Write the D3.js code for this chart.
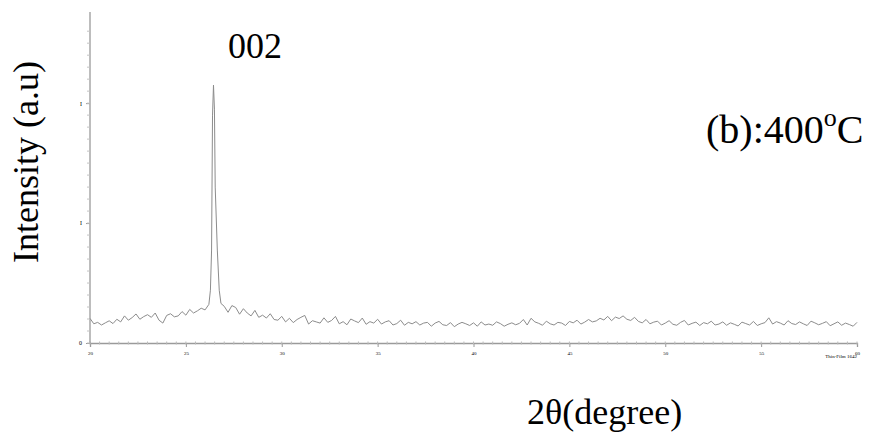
<!DOCTYPE html>
<html>
<head>
<meta charset="utf-8">
<script src="https://cdn.jsdelivr.net/npm/d3@7"></script>
<style>
  body { margin: 0; background: #fff; }
  svg { display: block; }
  text { font-family: "Liberation Serif", "Times New Roman", serif; fill: #000; }
</style>
</head>
<body>
<svg id="chart" width="874" height="441"></svg>
<script>
// Scan grid (instrument step 0.2 deg) and counts
const scanAngles = d3.range(20, 60.001, 0.2).map(v => +v.toFixed(1));
const scanCounts = [
  205, 160, 172, 150, 168, 185, 162, 198, 176, 226,
  190, 212, 242, 198, 220, 236, 214, 250, 190, 166,
  230, 244, 218, 226, 262, 232, 280, 250, 268, 290,
  276, 322,
  // 26.4 - 26.8 replaced by the peak points below
  null, null, null,
  306, 256, 312, 296, 240, 286, 250, 226, 272, 214,
  232, 208, 244, 196, 190, 222, 176, 206, 170, 196,
  214, 230, 158, 186, 176, 166, 210, 172, 188, 222,
  160, 178, 152, 200, 184, 170, 208, 156, 178, 166,
  198, 158, 176, 186, 150, 162, 190, 148, 172, 160,
  178, 150, 166, 172, 140, 166, 180, 152, 146, 170,
  136, 158, 172, 160, 146, 168, 140, 176, 150, 158,
  148, 176, 162, 140, 156, 168, 152, 164, 196, 150,
  206, 176, 164, 148, 182, 160, 150, 172, 166, 146,
  180, 168, 190, 158, 174, 196, 176, 184, 206, 192,
  222, 186, 216, 204, 226, 198, 188, 214, 180, 168,
  196, 160, 174, 182, 150, 166, 186, 156, 148, 172,
  188, 150, 164, 174, 146, 170, 160, 182, 150, 158,
  176, 148, 168, 156, 142, 174, 162, 150, 180, 146,
  160, 170, 210, 158, 178, 166, 150, 186, 162, 154,
  176, 160, 146, 182, 168, 152, 164, 178, 144, 160,
  176, 148, 166, 154, 140, 172, 160, 150, 174, 156,
  150, 162
];

// (002) reflection, finer points
const peakAngles = [26.28, 26.34, 26.39, 26.44, 26.49, 26.53, 26.64, 26.74, 26.83];
const peakCounts = [440, 775, 1900, 2150, 1950, 1300, 775, 440, 330];

const xTicks = [20, 25, 30, 35, 40, 45, 50, 55, 60];
const yTicks = [0, 1000, 2000];

const svg = d3.select('#chart');

// Plot frame taken from the scanned figure
const x = d3.scaleLinear().domain([20, 60]).range([90, 857]);
const y = d3.scaleLinear().domain([0, 2760]).range([343, 12]);

// Merge scan and peak points
const points = scanAngles
  .map((a, i) => ({ a: a, c: scanCounts[i] }))
  .filter(d => d.c != null)
  .concat(peakAngles.map((a, i) => ({ a: a, c: peakCounts[i] })))
  .sort((p, q) => p.a - q.a);

const axisColor = '#9a9a9a';

// x axis with minor ticks
const xAxis = svg.append('g')
  .attr('transform', `translate(0,${y(0)})`)
  .call(d3.axisBottom(x).tickValues(xTicks).tickSize(4).tickFormat(d3.format('d')));
xAxis.select('.domain').attr('stroke', axisColor).attr('stroke-width', 1.3);
xAxis.selectAll('.tick line').attr('stroke', axisColor);
xAxis.selectAll('.tick text')
  .attr('fill', '#aaa').style('font-size', '5px').attr('dy', '0.9em');

svg.append('g')
  .selectAll('line')
  .data(d3.range(20, 60.001, 0.5))
  .enter()
  .append('line')
  .attr('x1', d => x(d)).attr('x2', d => x(d))
  .attr('y1', y(0) - 1.5).attr('y2', y(0) + 1.5)
  .attr('stroke', '#bbb');

// y axis with minor ticks
const yAxis = svg.append('g')
  .attr('transform', `translate(${x(20)},0)`)
  .call(d3.axisLeft(y).tickValues(yTicks).tickSize(4).tickFormat(d => d === 0 ? '0' : 'I'));
yAxis.select('.domain').attr('stroke', axisColor).attr('stroke-width', 1.3)
  .attr('d', `M0,${y(0)}V${y(2760)}`);
yAxis.selectAll('.tick line').attr('stroke', axisColor);
yAxis.selectAll('.tick text').attr('fill', '#555').style('font-size', '6px').attr('x', -8);

svg.append('g')
  .selectAll('line')
  .data(d3.range(0, 2700, 100))
  .enter()
  .append('line')
  .attr('x1', x(20) - 3).attr('x2', x(20))
  .attr('y1', d => y(d)).attr('y2', d => y(d))
  .attr('stroke', '#c4c4c4');

// the pattern
svg.append('path')
  .datum(points)
  .attr('fill', 'none')
  .attr('stroke', '#8c8c8c')
  .attr('stroke-width', 1)
  .attr('d', d3.line().x(d => x(d.a)).y(d => y(d.c)));

// annotations
svg.append('text')
  .attr('x', 228).attr('y', 58)
  .style('font-size', '36px')
  .text('002');

const label = svg.append('text')
  .attr('x', 706).attr('y', 143)
  .style('font-size', '40px');
label.append('tspan').text('(b):400');
label.append('tspan').attr('dy', -17).style('font-size', '26px').text('o');
label.append('tspan').attr('dy', 17).text('C');

svg.append('text')
  .attr('transform', 'translate(38,162) rotate(-90)')
  .attr('text-anchor', 'middle')
  .style('font-size', '36px')
  .text('Intensity (a.u)');

svg.append('text')
  .attr('x', 527).attr('y', 424)
  .style('font-size', '36px')
  .text('2θ(degree)');

svg.append('text')
  .attr('x', 857).attr('y', 358)
  .attr('text-anchor', 'end')
  .attr('fill', '#aaa')
  .style('font-size', '5px')
  .text('Thin-Film 1642');
</script>
</body>
</html>
